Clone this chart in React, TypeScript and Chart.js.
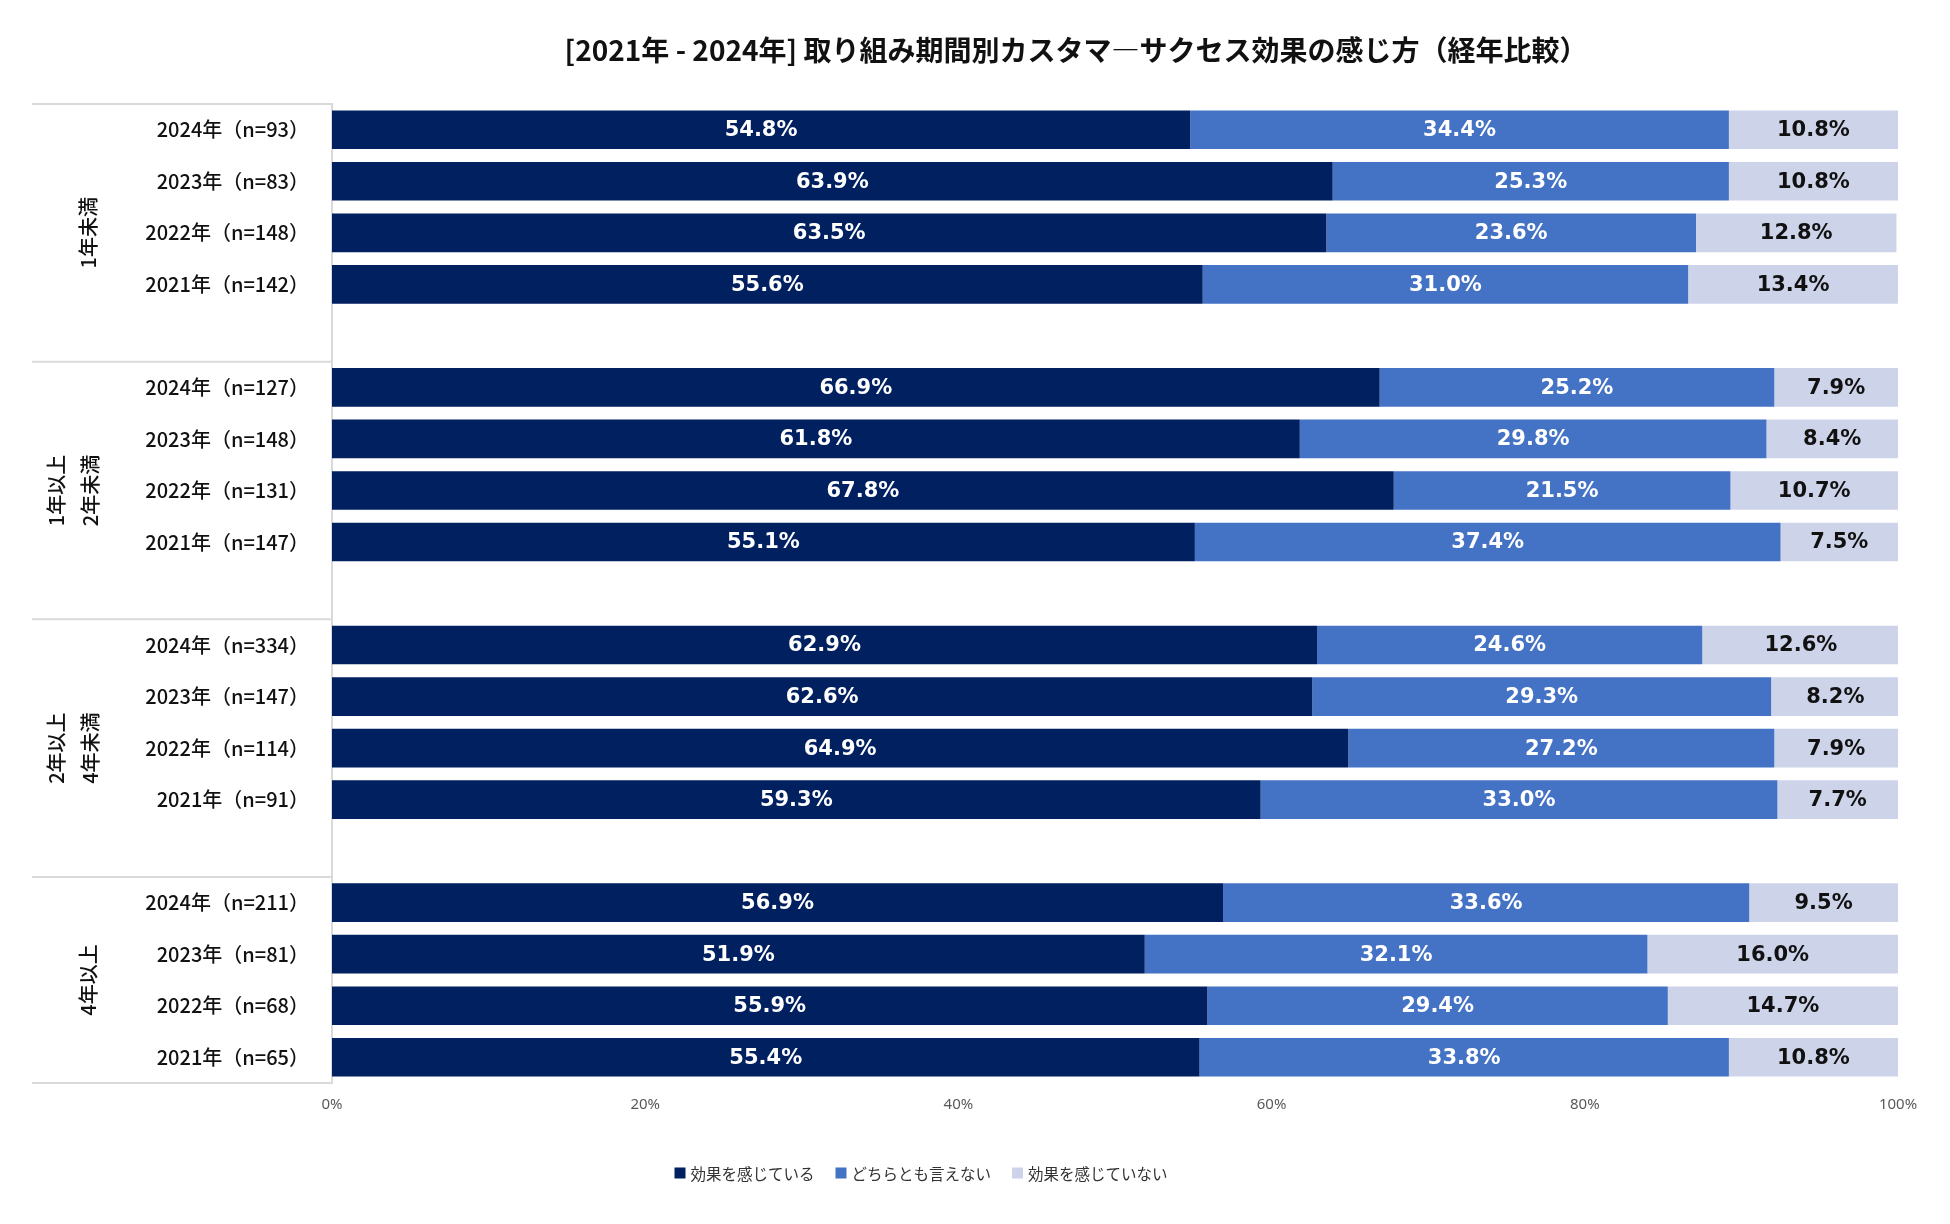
import React, { useEffect, useRef } from "react";
import { Chart, registerables } from "chart.js";

Chart.register(...registerables);

const TITLE = "[2021年 - 2024年] 取り組み期間別カスタマ―サクセス効果の感じ方（経年比較）";
const SERIES_NAMES = ["効果を感じている", "どちらとも言えない", "効果を感じていない"];
const SERIES_COLORS = ["#002060", "#4472C4", "#CDD4EA"];
const LABEL_COLORS = ["#FFFFFF", "#FFFFFF", "#111111"];

const GROUP_LABELS = [["1年未満"], ["1年以上", "2年未満"], ["2年以上", "4年未満"], ["4年以上"]];
const YEAR_LABELS = [
  ["2024年（n=93）", "2023年（n=83）", "2022年（n=148）", "2021年（n=142）"],
  ["2024年（n=127）", "2023年（n=148）", "2022年（n=131）", "2021年（n=147）"],
  ["2024年（n=334）", "2023年（n=147）", "2022年（n=114）", "2021年（n=91）"],
  ["2024年（n=211）", "2023年（n=81）", "2022年（n=68）", "2021年（n=65）"],
];
const EFFECTIVE = [
  [54.8, 63.9, 63.5, 55.6],
  [66.9, 61.8, 67.8, 55.1],
  [62.9, 62.6, 64.9, 59.3],
  [56.9, 51.9, 55.9, 55.4],
];
const NEUTRAL = [
  [34.4, 25.3, 23.6, 31.0],
  [25.2, 29.8, 21.5, 37.4],
  [24.6, 29.3, 27.2, 33.0],
  [33.6, 32.1, 29.4, 33.8],
];
const NOT_EFFECTIVE = [
  [10.8, 10.8, 12.8, 13.4],
  [7.9, 8.4, 10.7, 7.5],
  [12.6, 8.2, 7.9, 7.7],
  [9.5, 16.0, 14.7, 10.8],
];
const X_TICKS = [0, 20, 40, 60, 80, 100];

function flattenWithGaps<T>(groups: T[][], gap: T): T[] {
  const out: T[] = [];
  groups.forEach((g, i) => {
    out.push(...g);
    if (i < groups.length - 1) out.push(gap);
  });
  return out;
}

const CJK = '"Noto Sans CJK JP", "Noto Sans", sans-serif';

const titlePlugin = {
  id: "customTitle",
  afterDraw(chart: any) {
    const ctx = chart.ctx;
    ctx.save();
    ctx.font = `bold 28px ${CJK}`;
    ctx.fillStyle = "#111111";
    ctx.textAlign = "center";
    ctx.textBaseline = "middle";
    ctx.fillText(TITLE, 1076, 50);
    ctx.restore();
  },
};

const groupPlugin = {
  id: "groupLabels",
  afterDraw(chart: any) {
    const ctx = chart.ctx;
    const y = chart.scales.y;
    const area = chart.chartArea;
    const step = y.getPixelForValue(1) - y.getPixelForValue(0);
    ctx.save();
    ctx.strokeStyle = "#D9D9D9";
    ctx.lineWidth = 2;
    const n = GROUP_LABELS.length;
    for (let g = 0; g < n; g++) {
      const top = g === 0 ? area.top : y.getPixelForValue(5 * g) - step / 2;
      const bottom = g === n - 1 ? area.bottom : y.getPixelForValue(5 * g + 4) + step / 2;
      ctx.beginPath();
      ctx.moveTo(32, top);
      ctx.lineTo(area.left, top);
      ctx.stroke();
      if (g === n - 1) {
        ctx.beginPath();
        ctx.moveTo(32, bottom);
        ctx.lineTo(area.left, bottom);
        ctx.stroke();
      }
      const cy = (top + bottom) / 2;
      const lines = GROUP_LABELS[g];
      const xs = lines.length === 1 ? [88] : [56, 90];
      ctx.font = `500 20px ${CJK}`;
      ctx.fillStyle = "#111111";
      ctx.textAlign = "center";
      ctx.textBaseline = "middle";
      lines.forEach((line, i) => {
        ctx.save();
        ctx.translate(xs[i], cy);
        ctx.rotate(-Math.PI / 2);
        ctx.fillText(line, 0, 0);
        ctx.restore();
      });
    }
    ctx.restore();
  },
};

const dataLabelPlugin = {
  id: "dataLabels",
  afterDatasetsDraw(chart: any) {
    const ctx = chart.ctx;
    ctx.save();
    ctx.font = 'bold 21px "DejaVu Sans", sans-serif';
    ctx.textAlign = "center";
    ctx.textBaseline = "middle";
    chart.data.datasets.forEach((ds: any, di: number) => {
      const meta = chart.getDatasetMeta(di);
      ctx.fillStyle = LABEL_COLORS[di];
      meta.data.forEach((el: any, i: number) => {
        const v = ds.data[i];
        if (v === null || v === undefined) return;
        const cx = (el.x + el.base) / 2;
        ctx.fillText(v.toFixed(1) + "%", cx, el.y + 1);
      });
    });
    ctx.restore();
  },
};

const legendPlugin = {
  id: "customLegend",
  afterDraw(chart: any) {
    const ctx = chart.ctx;
    ctx.save();
    ctx.font = `15.5px ${CJK}`;
    ctx.textBaseline = "middle";
    ctx.textAlign = "left";
    const box = 11;
    const gapBox = 5;
    const gapItem = 21;
    const widths = SERIES_NAMES.map((s) => ctx.measureText(s).width);
    const total = widths.reduce((a, w) => a + box + gapBox + w, 0) + gapItem * (SERIES_NAMES.length - 1);
    let x = 921 - total / 2;
    const yc = 1173;
    SERIES_NAMES.forEach((s, i) => {
      ctx.fillStyle = SERIES_COLORS[i];
      ctx.fillRect(x, yc - box / 2, box, box);
      x += box + gapBox;
      ctx.fillStyle = "#333333";
      ctx.fillText(s, x, yc + 1);
      x += widths[i] + gapItem;
    });
    ctx.restore();
  },
};

export default function App() {
  const ref = useRef<HTMLCanvasElement | null>(null);
  useEffect(() => {
    if (!ref.current) return;
    const labels = flattenWithGaps(YEAR_LABELS, "");
    const series = [EFFECTIVE, NEUTRAL, NOT_EFFECTIVE];
    const chart = new Chart(ref.current, {
      type: "bar",
      data: {
        labels,
        datasets: series.map((s, i) => ({
          label: SERIES_NAMES[i],
          data: flattenWithGaps<number | null>(s, null),
          backgroundColor: SERIES_COLORS[i],
          borderWidth: 0,
          barPercentage: 0.75,
          categoryPercentage: 1,
        })),
      },
      options: {
        indexAxis: "y",
        animation: false,
        responsive: false,
        devicePixelRatio: 1,
        layout: { padding: { top: 104, right: 52, left: 0, bottom: 0 } },
        plugins: {
          legend: { display: false },
          title: { display: false },
          tooltip: { enabled: false },
        },
        scales: {
          x: {
            stacked: true,
            min: 0,
            max: 100,
            afterBuildTicks(scale: any) {
              scale.ticks = X_TICKS.map((v) => ({ value: v }));
            },
            afterFit(scale: any) {
              scale.height = 141;
            },
            grid: { display: false, drawTicks: false },
            border: { display: false },
            ticks: {
              padding: 13,
              color: "#595959",
              font: { family: '"Noto Sans", sans-serif', size: 15 },
              callback: (v: any) => v + "%",
              maxRotation: 0,
            },
          },
          y: {
            stacked: true,
            afterFit(scale: any) {
              scale.width = 332;
            },
            grid: { display: false, drawTicks: false },
            border: { display: true, color: "#D9D9D9", width: 2 },
            ticks: {
              padding: 23,
              color: "#111111",
              autoSkip: false,
              font: { family: CJK, size: 20, weight: "500" as any },
            },
          },
        },
      },
      plugins: [titlePlugin, groupPlugin, dataLabelPlugin, legendPlugin],
    });
    return () => chart.destroy();
  }, []);
  return (
    <div style={{ position: "absolute", left: 0, top: 0, width: 1950, height: 1224, background: "#fff" }}>
      <canvas ref={ref} width={1950} height={1224} style={{ width: 1950, height: 1224 }} />
    </div>
  );
}
